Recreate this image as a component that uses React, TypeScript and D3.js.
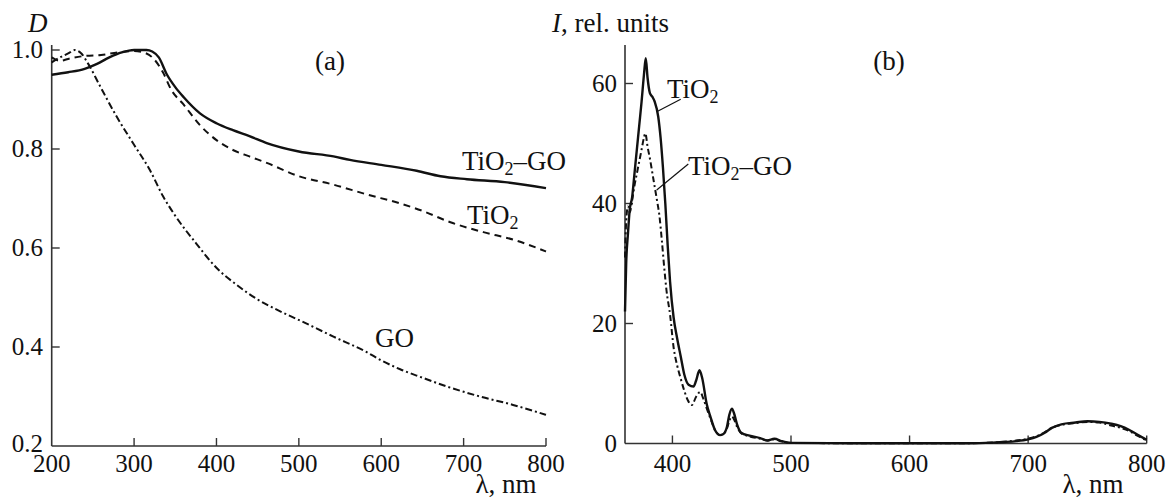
import React from "react";
import * as d3 from "d3";

// ---------- Panel (a): absorbance D vs wavelength ----------
const absTicksX = [200, 300, 400, 500, 600, 700, 800];
const absTicksY = [0.2, 0.4, 0.6, 0.8, 1.0];

const absTiO2GO_wl = [200, 220, 240, 255, 270, 285, 300, 315, 322, 330, 340, 350, 360, 380, 400, 420, 440, 461, 500, 542, 562, 600, 643, 672, 704, 750, 800];
const absTiO2GO_D = [0.95, 0.955, 0.962, 0.972, 0.985, 0.995, 1.0, 1.0, 0.997, 0.985, 0.95, 0.925, 0.905, 0.872, 0.852, 0.838, 0.826, 0.812, 0.795, 0.785, 0.778, 0.768, 0.756, 0.745, 0.739, 0.733, 0.721];

const absTiO2_wl = [200, 210, 220, 240, 260, 280, 300, 315, 325, 335, 345, 360, 380, 400, 420, 440, 461, 500, 542, 583, 623, 650, 684, 724, 760, 800];
const absTiO2_D = [0.985, 0.978, 0.982, 0.988, 0.99, 0.995, 0.998, 0.993, 0.98, 0.955, 0.92, 0.89, 0.848, 0.818, 0.798, 0.785, 0.772, 0.745, 0.728, 0.708, 0.69, 0.675, 0.652, 0.632, 0.617, 0.593];

const absGO_wl = [200, 210, 220, 228, 236, 244, 259, 279, 299, 319, 335, 350, 375, 400, 425, 449, 475, 502, 542, 582, 600, 623, 650, 680, 720, 760, 800];
const absGO_D = [0.975, 0.985, 0.993, 1.0, 0.993, 0.973, 0.926, 0.865, 0.811, 0.758, 0.705, 0.665, 0.61, 0.56, 0.525, 0.497, 0.474, 0.453, 0.421, 0.39, 0.373, 0.355, 0.338, 0.32, 0.3, 0.283, 0.263];

// ---------- Panel (b): PL intensity vs wavelength ----------
const plTicksX = [400, 500, 600, 700, 800];
const plTicksY = [0, 20, 40, 60];

const plTiO2_wl = [360, 361, 362.5, 364, 366, 368, 370, 372, 374, 376, 377.5, 379, 381, 383, 385, 388, 390, 392, 394, 396, 398, 401, 404, 407, 410, 413.6, 417.8, 420, 422.8, 425, 429, 432, 436, 440, 443, 446, 448, 450.2, 452, 454.5, 458, 465, 474, 480, 486, 492, 500, 550, 600, 650, 670, 680, 690, 700, 707, 714, 720, 728, 740, 750, 760, 770, 778, 785, 792, 800];
const plTiO2_I = [22, 30, 35, 39, 41, 45, 49, 53, 57, 61.5, 64.2, 61, 58.4, 57.8, 57, 54.5, 51, 46, 40, 33, 27, 21, 17.5, 14.5, 11.5, 9.8, 9.5, 10.5, 12.2, 11, 6.5, 4.5, 2.2, 1.4, 1.6, 2.8, 4.8, 5.8, 5, 3.2, 1.8, 1.3, 0.9, 0.5, 0.8, 0.4, 0.1, 0.05, 0.05, 0.05, 0.15, 0.25, 0.4, 0.7, 1.1, 1.8, 2.6, 3.2, 3.5, 3.7, 3.6, 3.3, 2.9, 2.3, 1.5, 0.6];

const plTiO2GO_wl = [360, 361, 362.5, 364, 366, 368, 370, 372, 374, 376, 377.2, 379, 381, 384, 387, 389, 391, 393, 395, 398, 401, 404, 407, 410, 413, 416.3, 420, 423.4, 426, 429, 432, 436, 440, 443, 446, 448, 450.2, 452, 454.5, 458, 465, 474, 480, 486, 492, 500, 550, 600, 650, 670, 680, 690, 700, 707, 714, 720, 728, 740, 750, 760, 770, 778, 785, 792, 800];
const plTiO2GO_I = [31, 37, 39.5, 38.5, 40.5, 43, 45, 47, 49, 51, 51.7, 49.5, 47.5, 44, 40.5, 38, 34, 29.5, 25.5, 21.5, 16, 13, 10.8, 8.8, 7.2, 6.4, 7.8, 8.6, 7.5, 5.8, 4.2, 2.2, 1.4, 1.6, 2.5, 3.8, 4.5, 4, 2.8, 1.7, 1.2, 0.8, 0.5, 0.7, 0.35, 0.1, 0.05, 0.05, 0.05, 0.15, 0.3, 0.5, 0.8, 1.2, 1.9, 2.6, 3.1, 3.4, 3.6, 3.5, 3.0, 2.6, 2.1, 1.3, 0.5];

const FONT = '"Liberation Serif", "Times New Roman", "DejaVu Serif", serif';
const INK = "#111";
const AXIS = "#333";
const TXT: React.CSSProperties = { fontFamily: FONT };

function zip(xs: number[], ys: number[]): [number, number][] {
  return xs.map((x, i) => [x, ys[i]]);
}

export default function App() {
  const xa = d3.scaleLinear().domain([200, 800]).range([51.7, 546]);
  const ya = d3.scaleLinear().domain([0.2, 1.0]).range([446, 50]);
  const xb = d3.scaleLinear().domain([360, 800]).range([625, 1146.7]);
  const yb = d3.scaleLinear().domain([0, 60]).range([443.5, 83.5]);

  const lineA = d3
    .line<[number, number]>()
    .x((d) => xa(d[0]))
    .y((d) => ya(d[1]))
    .curve(d3.curveMonotoneX);
  const lineB = d3
    .line<[number, number]>()
    .x((d) => xb(d[0]))
    .y((d) => yb(d[1]))
    .curve(d3.curveMonotoneX);

  const fs = 25; // tick labels
  const fl = 27; // other labels
  const tickLen = 8;

  const sub = (main: string, rest?: string) => (
    <>
      {main}
      <tspan dy={5} fontSize={18}>2</tspan>
      {rest ? <tspan dy={-5}>{rest}</tspan> : null}
    </>
  );

  return (
    <svg
      width={1167}
      height={498}
      style={{ position: "absolute", left: 0, top: 0, background: "#fff", fontFamily: FONT }}
    >
      {/* ===== Panel (a) ===== */}
      <g>
        <line x1={xa(200)} x2={xa(200)} y1={45} y2={ya(0.2)} stroke={AXIS} strokeWidth={1.6} />
        <line x1={xa(200)} x2={xa(800)} y1={ya(0.2)} y2={ya(0.2)} stroke={AXIS} strokeWidth={1.6} />
        {absTicksY.map((t) => (
          <g key={"ay" + t}>
            {t > 0.2 && (
              <line x1={xa(200)} x2={xa(200) + tickLen} y1={ya(t)} y2={ya(t)} stroke={AXIS} strokeWidth={1.4} />
            )}
            <text x={43} y={ya(t) + (t > 0.2 ? 8 : 6)} textAnchor="end" fontSize={fs} fill={INK} style={TXT}>
              {t.toFixed(1)}
            </text>
          </g>
        ))}
        {absTicksX.map((t) => (
          <g key={"ax" + t}>
            {t > 200 && (
              <line x1={xa(t)} x2={xa(t)} y1={ya(0.2)} y2={ya(0.2) - tickLen} stroke={AXIS} strokeWidth={1.4} />
            )}
            <text x={xa(t)} y={472} textAnchor="middle" fontSize={fs} fill={INK} style={TXT}>
              {t}
            </text>
          </g>
        ))}
        <text x={28} y={32} fontSize={fl} fontStyle="italic" fill={INK} style={TXT}>D</text>
        <text x={506} y={493} textAnchor="middle" fontSize={fl} fill={INK} style={TXT}>λ, nm</text>
        <text x={330} y={70} textAnchor="middle" fontSize={fl} fill={INK} style={TXT}>(a)</text>

        <path d={lineA(zip(absTiO2GO_wl, absTiO2GO_D)) || ""} fill="none" stroke={INK} strokeWidth={2.4} />
        <path d={lineA(zip(absTiO2_wl, absTiO2_D)) || ""} fill="none" stroke={INK} strokeWidth={2} strokeDasharray="7,5" />
        <path d={lineA(zip(absGO_wl, absGO_D)) || ""} fill="none" stroke={INK} strokeWidth={2} strokeDasharray="7,3,2,3" />

        <text x={462} y={170} fontSize={fl} fill={INK} style={TXT}>{sub("TiO", "–GO")}</text>
        <text x={467} y={224} fontSize={fl} fill={INK} style={TXT}>{sub("TiO")}</text>
        <text x={375} y={347} fontSize={fl} fill={INK} style={TXT}>GO</text>
      </g>

      {/* ===== Panel (b) ===== */}
      <g>
        <line x1={xb(360)} x2={xb(360)} y1={45} y2={yb(0)} stroke={AXIS} strokeWidth={1.6} />
        <line x1={xb(360)} x2={xb(800)} y1={yb(0)} y2={yb(0)} stroke={AXIS} strokeWidth={1.6} />
        {plTicksY.map((t) => (
          <g key={"by" + t}>
            {t > 0 && (
              <line x1={xb(360)} x2={xb(360) + tickLen} y1={yb(t)} y2={yb(t)} stroke={AXIS} strokeWidth={1.4} />
            )}
            <text x={617} y={yb(t) + 8} textAnchor="end" fontSize={fs} fill={INK} style={TXT}>
              {t}
            </text>
          </g>
        ))}
        {plTicksX.map((t) => (
          <g key={"bx" + t}>
            <line x1={xb(t)} x2={xb(t)} y1={yb(0)} y2={yb(0) - tickLen} stroke={AXIS} strokeWidth={1.4} />
            <text x={xb(t)} y={472} textAnchor="middle" fontSize={fs} fill={INK} style={TXT}>
              {t}
            </text>
          </g>
        ))}
        <text x={552} y={32} fontSize={fl} fill={INK} style={TXT}>
          <tspan fontStyle="italic">I</tspan>, rel. units
        </text>
        <text x={1093} y={493} textAnchor="middle" fontSize={fl} fill={INK} style={TXT}>λ, nm</text>
        <text x={889} y={70} textAnchor="middle" fontSize={fl} fill={INK} style={TXT}>(b)</text>

        <path d={lineB(zip(plTiO2_wl, plTiO2_I)) || ""} fill="none" stroke={INK} strokeWidth={2.4} />
        <path d={lineB(zip(plTiO2GO_wl, plTiO2GO_I)) || ""} fill="none" stroke={INK} strokeWidth={2} strokeDasharray="6,3,2,3" />

        <line x1={656.7} y1={111.7} x2={680.7} y2={99.3} stroke={INK} strokeWidth={1.2} />
        <line x1={656.7} y1={190} x2={688.3} y2={164} stroke={INK} strokeWidth={1.2} />
        <text x={667} y={98} fontSize={fl} fill={INK} style={TXT}>{sub("TiO")}</text>
        <text x={688} y={175} fontSize={fl} fill={INK} style={TXT}>{sub("TiO", "–GO")}</text>
      </g>
    </svg>
  );
}
